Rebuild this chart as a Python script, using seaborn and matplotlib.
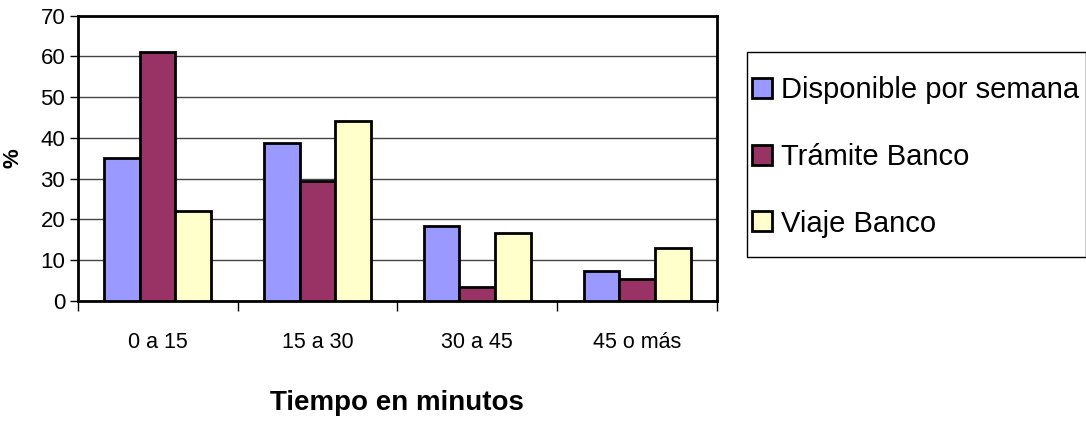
import matplotlib
matplotlib.use("Agg")
import matplotlib.pyplot as plt
from matplotlib.patches import Rectangle
from matplotlib.ticker import FixedLocator, MultipleLocator
import seaborn as sns
import pandas as pd

# Survey data: share of respondents (%) per time range
categories = ["0 a 15", "15 a 30", "30 a 45", "45 o más"]
series_names = ["Disponible por semana", "Trámite Banco", "Viaje Banco"]
disponible = [35.0, 38.7, 18.5, 7.4]
tramite = [61.2, 29.5, 3.5, 5.5]
viaje = [22.1, 44.2, 16.6, 12.9]
colors = ["#9999FF", "#993366", "#FFFFCC"]

df = pd.DataFrame({
    "Tiempo": categories * 3,
    "Serie": [s for s in series_names for _ in categories],
    "Valor": disponible + tramite + viaje,
})

sns.set_style("white")
plt.rcParams["font.family"] = ["Liberation Sans", "DejaVu Sans"]
plt.rcParams["text.color"] = "black"
plt.rcParams["axes.labelcolor"] = "black"
plt.rcParams["xtick.color"] = "black"
plt.rcParams["ytick.color"] = "black"

W, H = 1086, 421
fig = plt.figure(figsize=(W / 100, H / 100), dpi=100)
ax = fig.add_axes([77.7 / W, 1 - 301 / H, (717 - 77.7) / W, (301 - 15.7) / H])

sns.barplot(data=df, x="Tiempo", y="Valor", hue="Serie", order=categories,
            hue_order=series_names, palette=colors, width=0.67,
            edgecolor="black", linewidth=2, saturation=1, ax=ax, zorder=3)

ax.set_xlim(-0.5, len(categories) - 0.5)
ax.set_ylim(0, 70)
ax.yaxis.set_major_locator(MultipleLocator(10))
ax.yaxis.grid(True, color="#444444", linewidth=1, zorder=0)
ax.set_axisbelow(True)

for side in ["left", "right", "top", "bottom"]:
    ax.spines[side].set_visible(True)
    ax.spines[side].set_color("black")
    ax.spines[side].set_linewidth(2)

ax.tick_params(axis="y", which="major", direction="out", length=6, width=1,
               labelsize=16, pad=3, left=True)
ax.tick_params(axis="x", which="major", length=0, labelsize=15.5, pad=22)
ax.xaxis.set_minor_locator(FixedLocator([i - 0.5 for i in range(len(categories) + 1)]))
ax.tick_params(axis="x", which="minor", direction="out", length=7, width=1,
               bottom=True)

ax.set_xlabel("Tiempo en minutos", fontsize=20, fontweight="bold", labelpad=27)
ax.set_ylabel("%", fontsize=16, fontweight="bold", labelpad=12)

# Legend to the right of the plot, inside its own boxed frame
ax.get_legend().remove()
handles, labels = ax.get_legend_handles_labels()
fig.patches.append(Rectangle((746.7 / W, 1 - 257.3 / H), 339 / W, 205 / H,
                             transform=fig.transFigure, fill=False,
                             edgecolor="black", linewidth=1))
leg = fig.legend(handles, labels, loc="upper left",
                 bbox_to_anchor=(752 / W, 1 - 76 / H),
                 borderaxespad=0, borderpad=0, fontsize=21, frameon=False,
                 handlelength=0.68, handleheight=0.68,
                 handletextpad=0.3, labelspacing=1.33)

fig.savefig("out.png", dpi=100)
